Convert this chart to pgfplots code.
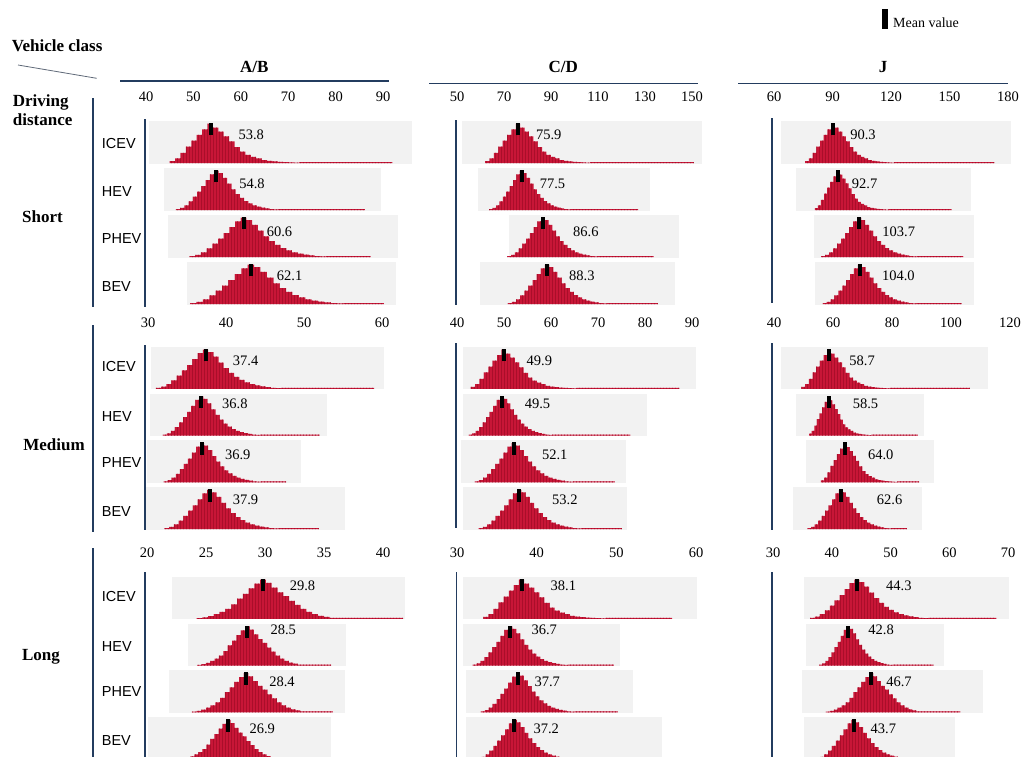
\documentclass[border=0pt]{standalone}
\usepackage{pgfplots}
\pgfplotsset{compat=1.18}
\usetikzlibrary{patterns}
\usepackage{fontspec}
\setmainfont{Liberation Serif}
\newfontfamily\arialf{Liberation Sans}
\definecolor{histred}{RGB}{200,22,55}
\definecolor{histdark}{RGB}{170,14,42}
\definecolor{boxgray}{RGB}{242,242,242}
\definecolor{navy}{RGB}{35,60,95}
\definecolor{diag}{RGB}{95,105,120}
\newcommand\tickf{\fontsize{14.5}{17}\selectfont}
\newcommand\valf{\fontsize{14.5}{17}\selectfont}
\newcommand\boldf{\fontsize{17}{20}\selectfont\bfseries}
\newcommand\clsf{\arialf\fontsize{14.5}{17}\selectfont}
\newcommand\legf{\fontsize{14}{16}\selectfont}
\tikzset{vlab/.style={anchor=west, inner sep=0pt, font=\valf}}
\pgfplotsset{
 panel/.style={scale only axis, anchor=south west, ymin=0, ymax=4, clip=false,
   axis line style={draw=none}, tick style={draw=none}, major tick length=0pt,
   ytick=\empty, xticklabel pos=upper,
   xticklabel style={font=\tickf, anchor=center, inner sep=0pt, yshift=22pt},
   /pgf/number format/assume math mode=true},
 gbox/.style={fill=boxgray, draw=none, forget plot},
 hist/.style={const plot, fill=histred, draw=none, forget plot,
   postaction={pattern=vertical lines, pattern color=histdark}},
 mbar/.style={black, line width=4pt, forget plot},
}
\begin{document}
\begin{tikzpicture}
% ---------------- header texts and lines ----------------
\node[anchor=base west, inner sep=0pt, font=\boldf] at (11.7pt,-51pt) {Vehicle class};
\draw[diag, line width=0.8pt] (18pt,-65pt) -- (96.7pt,-78.3pt);
\node[anchor=base west, inner sep=0pt, font=\boldf] at (12.7pt,-106pt) {Driving};
\node[anchor=base west, inner sep=0pt, font=\boldf] at (12.7pt,-125.5pt) {distance};
\node[anchor=base, inner sep=0pt, font=\boldf] at (254.3pt,-72.5pt) {A/B};
\node[anchor=base, inner sep=0pt, font=\boldf] at (563.3pt,-72.5pt) {C/D};
\node[anchor=base, inner sep=0pt, font=\boldf] at (883pt,-72.5pt) {J};
\draw[navy, line width=1.1pt] (120pt,-81pt) -- (389pt,-81pt);
\draw[navy, line width=1.1pt] (429pt,-83.5pt) -- (698pt,-83.5pt);
\draw[navy, line width=1.1pt] (738pt,-83.5pt) -- (1008pt,-83.5pt);
% row labels
\node[anchor=base, inner sep=0pt, font=\boldf] at (42.5pt,-222.5pt) {Short};
\node[anchor=base, inner sep=0pt, font=\boldf] at (54pt,-450.5pt) {Medium};
\node[anchor=base, inner sep=0pt, font=\boldf] at (41pt,-660.5pt) {Long};
% outer separators
\draw[navy, line width=1.1pt] (93pt,-98pt) -- (93pt,-307pt);
\draw[navy, line width=1.1pt] (93pt,-325pt) -- (93pt,-532pt);
\draw[navy, line width=1.1pt] (93pt,-548pt) -- (93pt,-770pt);
% inner separators
\draw[navy, line width=1.1pt] (145pt,-119pt) -- (145pt,-307pt);
\draw[navy, line width=1.1pt] (456pt,-120pt) -- (456pt,-305pt);
\draw[navy, line width=1.1pt] (772pt,-118pt) -- (772pt,-303pt);
\draw[navy, line width=1.1pt] (145pt,-345pt) -- (145pt,-530pt);
\draw[navy, line width=1.1pt] (456pt,-343pt) -- (456pt,-528pt);
\draw[navy, line width=1.1pt] (772pt,-343pt) -- (772pt,-530pt);
\draw[navy, line width=1.1pt] (145pt,-572pt) -- (145pt,-770pt);
\draw[navy, line width=1.1pt] (456.7pt,-572pt) -- (456.7pt,-770pt);
\draw[navy, line width=1.1pt] (772pt,-572pt) -- (772pt,-770pt);
% class labels
\foreach \yy/\tt in {148.5/ICEV,196.9/HEV,243.5/PHEV,291.2/BEV,371.9/ICEV,421.9/HEV,467.9/PHEV,516.9/BEV,601.9/ICEV,651.2/HEV,696.9/PHEV,745.2/BEV}
  \node[anchor=base west, inner sep=0pt, font=\clsf] at (101.7pt,-\yy pt) {\tt};

% ================= ROW 1 : SHORT =================
\begin{axis}[panel, at={(146pt,-307pt)}, width=237pt, height=188pt, xmin=40, xmax=90, xtick={40,50,...,90}]
\addplot[gbox] coordinates {(40.7,3.05) (96.2,3.05) (96.2,3.96) (40.7,3.96)};
\addplot[gbox] coordinates {(43.8,2.05) (89.5,2.05) (89.5,2.96) (43.8,2.96)};
\addplot[gbox] coordinates {(44.6,1.05) (93.1,1.05) (93.1,1.96) (44.6,1.96)};
\addplot[gbox] coordinates {(48.6,0.05) (92.7,0.05) (92.7,0.96) (48.6,0.96)};
\addplot[hist] table[row sep=\\, y expr=\thisrow{h}+3.06] {x h\\45.00 0\\45.00 0.042\\46.14 0.101\\47.28 0.218\\48.42 0.353\\49.56 0.479\\50.70 0.605\\51.84 0.722\\52.98 0.840\\54.12 0.756\\55.26 0.672\\56.40 0.571\\57.54 0.462\\58.68 0.344\\59.82 0.244\\60.96 0.176\\62.10 0.134\\63.24 0.101\\64.38 0.067\\65.52 0.050\\66.66 0.038\\67.80 0.029\\68.94 0.021\\70.08 0.017\\71.22 0.013\\72.36 0.022\\92.0 0\\};
\addplot[hist] table[row sep=\\, y expr=\thisrow{h}+2.06] {x h\\46.3 0\\46.3 0.025\\47.2 0.050\\48.1 0.101\\49.0 0.185\\49.9 0.286\\50.8 0.395\\51.7 0.512\\52.6 0.638\\53.5 0.764\\54.4 0.840\\55.3 0.790\\56.2 0.689\\57.1 0.563\\58.0 0.445\\58.9 0.344\\59.8 0.260\\60.7 0.193\\61.6 0.143\\62.5 0.101\\63.4 0.076\\64.3 0.055\\65.2 0.038\\66.1 0.025\\67.0 0.017\\67.9 0.022\\86.2 0\\};
\addplot[hist] table[row sep=\\, y expr=\thisrow{h}+1.06] {x h\\49.2 0\\49.2 0.025\\50.4 0.050\\51.6 0.101\\52.8 0.185\\54.0 0.286\\55.2 0.395\\56.4 0.512\\57.6 0.638\\58.8 0.764\\60.0 0.840\\61.2 0.790\\62.4 0.689\\63.6 0.563\\64.8 0.445\\66.0 0.344\\67.2 0.260\\68.4 0.193\\69.6 0.143\\70.8 0.101\\72.0 0.076\\73.2 0.055\\74.4 0.038\\75.6 0.025\\76.8 0.017\\78.0 0.022\\87.4 0\\};
\addplot[hist] table[row sep=\\, y expr=\thisrow{h}+0.06] {x h\\49.30 0\\49.30 0.025\\50.65 0.050\\52.00 0.101\\53.35 0.185\\54.70 0.286\\56.05 0.395\\57.40 0.512\\58.75 0.638\\60.10 0.764\\61.45 0.840\\62.80 0.790\\64.15 0.689\\65.50 0.563\\66.85 0.445\\68.20 0.344\\69.55 0.260\\70.90 0.193\\72.25 0.143\\73.60 0.101\\74.95 0.076\\76.30 0.055\\77.65 0.038\\79.00 0.025\\80.35 0.017\\81.70 0.022\\90.2 0\\};
\addplot[mbar] coordinates {(53.8,3.65) (53.8,3.915)};
\addplot[mbar] coordinates {(54.8,2.65) (54.8,2.915)};
\addplot[mbar] coordinates {(60.6,1.65) (60.6,1.915)};
\addplot[mbar] coordinates {(62.1,0.65) (62.1,0.915)};
\node[vlab, xshift=27pt] at (axis cs:53.8,3.66) {53.8};
\node[vlab, xshift=23pt] at (axis cs:54.8,2.62) {54.8};
\node[vlab, xshift=23pt] at (axis cs:60.6,1.60) {60.6};
\node[vlab, xshift=26pt] at (axis cs:62.1,0.66) {62.1};
\end{axis}

\begin{axis}[panel, at={(457pt,-307pt)}, width=235pt, height=188pt, xmin=50, xmax=150, xtick={50,70,...,150}]
\addplot[gbox] coordinates {(52.2,3.05) (154.3,3.05) (154.3,3.96) (52.2,3.96)};
\addplot[gbox] coordinates {(59.0,2.05) (132.2,2.05) (132.2,2.96) (59.0,2.96)};
\addplot[gbox] coordinates {(72.1,1.05) (144.5,1.05) (144.5,1.96) (72.1,1.96)};
\addplot[gbox] coordinates {(59.9,0.05) (142.6,0.05) (142.6,0.96) (59.9,0.96)};
\addplot[hist] table[row sep=\\, y expr=\thisrow{h}+3.06] {x h\\62.00 0\\62.00 0.042\\63.86 0.101\\65.72 0.218\\67.58 0.353\\69.44 0.479\\71.30 0.605\\73.16 0.722\\75.02 0.840\\76.88 0.756\\78.74 0.672\\80.60 0.571\\82.46 0.462\\84.32 0.344\\86.18 0.244\\88.04 0.176\\89.90 0.134\\91.76 0.101\\93.62 0.067\\95.48 0.050\\97.34 0.038\\99.20 0.029\\101.06 0.021\\102.92 0.017\\104.78 0.013\\106.64 0.022\\150.8 0\\};
\addplot[hist] table[row sep=\\, y expr=\thisrow{h}+2.06] {x h\\63.70 0\\63.70 0.025\\65.15 0.050\\66.60 0.101\\68.05 0.185\\69.50 0.286\\70.95 0.395\\72.40 0.512\\73.85 0.638\\75.30 0.764\\76.75 0.840\\78.20 0.790\\79.65 0.689\\81.10 0.563\\82.55 0.445\\84.00 0.344\\85.45 0.260\\86.90 0.193\\88.35 0.143\\89.80 0.101\\91.25 0.076\\92.70 0.055\\94.15 0.038\\95.60 0.025\\97.05 0.017\\98.50 0.022\\127.1 0\\};
\addplot[hist] table[row sep=\\, y expr=\thisrow{h}+1.06] {x h\\71.4 0\\71.4 0.025\\73.0 0.050\\74.6 0.101\\76.2 0.185\\77.8 0.286\\79.4 0.395\\81.0 0.512\\82.6 0.638\\84.2 0.764\\85.8 0.840\\87.4 0.790\\89.0 0.689\\90.6 0.563\\92.2 0.445\\93.8 0.344\\95.4 0.260\\97.0 0.193\\98.6 0.143\\100.2 0.101\\101.8 0.076\\103.4 0.055\\105.0 0.038\\106.6 0.025\\108.2 0.017\\109.8 0.022\\133.7 0\\};
\addplot[hist] table[row sep=\\, y expr=\thisrow{h}+0.06] {x h\\71.60 0\\71.60 0.025\\73.36 0.050\\75.12 0.101\\76.88 0.185\\78.64 0.286\\80.40 0.395\\82.16 0.512\\83.92 0.638\\85.68 0.764\\87.44 0.840\\89.20 0.790\\90.96 0.689\\92.72 0.563\\94.48 0.445\\96.24 0.344\\98.00 0.260\\99.76 0.193\\101.52 0.143\\103.28 0.101\\105.04 0.076\\106.80 0.055\\108.56 0.038\\110.32 0.025\\112.08 0.017\\113.84 0.022\\135.5 0\\};
\addplot[mbar] coordinates {(75.9,3.65) (75.9,3.915)};
\addplot[mbar] coordinates {(77.5,2.65) (77.5,2.915)};
\addplot[mbar] coordinates {(86.6,1.65) (86.6,1.915)};
\addplot[mbar] coordinates {(88.3,0.65) (88.3,0.915)};
\node[vlab, xshift=18pt] at (axis cs:75.9,3.66) {75.9};
\node[vlab, xshift=18pt] at (axis cs:77.5,2.62) {77.5};
\node[vlab, xshift=30pt] at (axis cs:86.6,1.60) {86.6};
\node[vlab, xshift=22pt] at (axis cs:88.3,0.66) {88.3};
\end{axis}

\begin{axis}[panel, at={(774pt,-307pt)}, width=234pt, height=188pt, xmin=60, xmax=180, xtick={60,90,...,180},
  legend style={at={(axis description cs:0.462,1.527)}, anchor=west, draw=none, fill=none, inner sep=0pt, font=\legf},
  legend image code/.code={\fill[black] (0pt,-4pt) rectangle (4.5pt,15pt);}]
\addlegendimage{black}
\addlegendentry{\hspace{4pt}Mean value}
\addplot[gbox] coordinates {(63.4,3.05) (181.4,3.05) (181.4,3.96) (63.4,3.96)};
\addplot[gbox] coordinates {(71.3,2.05) (161.2,2.05) (161.2,2.96) (71.3,2.96)};
\addplot[gbox] coordinates {(80.6,1.05) (162.7,1.05) (162.7,1.96) (80.6,1.96)};
\addplot[gbox] coordinates {(80.9,0.05) (162.5,0.05) (162.5,0.96) (80.9,0.96)};
\addplot[hist] table[row sep=\\, y expr=\thisrow{h}+3.06] {x h\\76.0 0\\76.0 0.042\\77.9 0.101\\79.8 0.218\\81.7 0.353\\83.6 0.479\\85.5 0.605\\87.4 0.722\\89.3 0.840\\91.2 0.756\\93.1 0.672\\95.0 0.571\\96.9 0.462\\98.8 0.344\\100.7 0.244\\102.6 0.176\\104.5 0.134\\106.4 0.101\\108.3 0.067\\110.2 0.050\\112.1 0.038\\114.0 0.029\\115.9 0.021\\117.8 0.017\\119.7 0.013\\121.6 0.022\\173.0 0\\};
\addplot[hist] table[row sep=\\, y expr=\thisrow{h}+2.06] {x h\\80.90 0\\80.90 0.042\\82.48 0.101\\84.06 0.218\\85.64 0.353\\87.22 0.479\\88.80 0.605\\90.38 0.722\\91.96 0.840\\93.54 0.756\\95.12 0.672\\96.70 0.571\\98.28 0.462\\99.86 0.344\\101.44 0.244\\103.02 0.176\\104.60 0.134\\106.18 0.101\\107.76 0.067\\109.34 0.050\\110.92 0.038\\112.50 0.029\\114.08 0.021\\115.66 0.017\\117.24 0.013\\118.82 0.022\\151.0 0\\};
\addplot[hist] table[row sep=\\, y expr=\thisrow{h}+1.06] {x h\\84.20 0\\84.20 0.025\\86.25 0.050\\88.30 0.101\\90.35 0.185\\92.40 0.286\\94.45 0.395\\96.50 0.512\\98.55 0.638\\100.60 0.764\\102.65 0.840\\104.70 0.790\\106.75 0.689\\108.80 0.563\\110.85 0.445\\112.90 0.344\\114.95 0.260\\117.00 0.193\\119.05 0.143\\121.10 0.101\\123.15 0.076\\125.20 0.055\\127.25 0.038\\129.30 0.025\\131.35 0.017\\133.40 0.022\\157.0 0\\};
\addplot[hist] table[row sep=\\, y expr=\thisrow{h}+0.06] {x h\\85 0\\85 0.025\\87 0.050\\89 0.101\\91 0.185\\93 0.286\\95 0.395\\97 0.512\\99 0.638\\101 0.764\\103 0.840\\105 0.790\\107 0.689\\109 0.563\\111 0.445\\113 0.344\\115 0.260\\117 0.193\\119 0.143\\121 0.101\\123 0.076\\125 0.055\\127 0.038\\129 0.025\\131 0.017\\133 0.022\\156.2 0\\};
\addplot[mbar] coordinates {(90.3,3.65) (90.3,3.915)};
\addplot[mbar] coordinates {(92.7,2.65) (92.7,2.915)};
\addplot[mbar] coordinates {(103.7,1.65) (103.7,1.915)};
\addplot[mbar] coordinates {(104.0,0.65) (104.0,0.915)};
\node[vlab, xshift=17pt] at (axis cs:90.3,3.66) {90.3};
\node[vlab, xshift=14pt] at (axis cs:92.7,2.62) {92.7};
\node[vlab, xshift=23pt] at (axis cs:103.7,1.60) {103.7};
\node[vlab, xshift=22pt] at (axis cs:104.0,0.66) {104.0};
\end{axis}

% ================= ROW 2 : MEDIUM =================
\begin{axis}[panel, at={(148pt,-532pt)}, width=234pt, height=187pt, xmin=30, xmax=60, xtick={30,40,50,60}]
\addplot[gbox] coordinates {(30.4,3.05) (60.3,3.05) (60.3,3.96) (30.4,3.96)};
\addplot[gbox] coordinates {(30.2,2.05) (53.0,2.05) (53.0,2.96) (30.2,2.96)};
\addplot[gbox] coordinates {(29.9,1.05) (49.6,1.05) (49.6,1.96) (29.9,1.96)};
\addplot[gbox] coordinates {(29.8,0.05) (55.2,0.05) (55.2,0.96) (29.8,0.96)};
\addplot[hist] table[row sep=\\, y expr=\thisrow{h}+3.06] {x h\\31.00 0\\31.00 0.025\\31.67 0.050\\32.34 0.101\\33.01 0.185\\33.68 0.286\\34.35 0.395\\35.02 0.512\\35.69 0.638\\36.36 0.764\\37.03 0.840\\37.70 0.790\\38.37 0.689\\39.04 0.563\\39.71 0.445\\40.38 0.344\\41.05 0.260\\41.72 0.193\\42.39 0.143\\43.06 0.101\\43.73 0.076\\44.40 0.055\\45.07 0.038\\45.74 0.025\\46.41 0.017\\47.08 0.022\\59.0 0\\};
\addplot[hist] table[row sep=\\, y expr=\thisrow{h}+2.06] {x h\\31.90 0\\31.90 0.025\\32.42 0.050\\32.94 0.101\\33.46 0.185\\33.98 0.286\\34.50 0.395\\35.02 0.512\\35.54 0.638\\36.06 0.764\\36.58 0.840\\37.10 0.790\\37.62 0.689\\38.14 0.563\\38.66 0.445\\39.18 0.344\\39.70 0.260\\40.22 0.193\\40.74 0.143\\41.26 0.101\\41.78 0.076\\42.30 0.055\\42.82 0.038\\43.34 0.025\\43.86 0.017\\44.38 0.022\\52.0 0\\};
\addplot[hist] table[row sep=\\, y expr=\thisrow{h}+1.06] {x h\\32.00 0\\32.00 0.025\\32.52 0.050\\33.04 0.101\\33.56 0.185\\34.08 0.286\\34.60 0.395\\35.12 0.512\\35.64 0.638\\36.16 0.764\\36.68 0.840\\37.20 0.790\\37.72 0.689\\38.24 0.563\\38.76 0.445\\39.28 0.344\\39.80 0.260\\40.32 0.193\\40.84 0.143\\41.36 0.101\\41.88 0.076\\42.40 0.055\\42.92 0.038\\43.44 0.025\\43.96 0.017\\44.48 0.022\\47.7 0\\};
\addplot[hist] table[row sep=\\, y expr=\thisrow{h}+0.06] {x h\\32.10 0\\32.10 0.025\\32.71 0.050\\33.32 0.101\\33.93 0.185\\34.54 0.286\\35.15 0.395\\35.76 0.512\\36.37 0.638\\36.98 0.764\\37.59 0.840\\38.20 0.790\\38.81 0.689\\39.42 0.563\\40.03 0.445\\40.64 0.344\\41.25 0.260\\41.86 0.193\\42.47 0.143\\43.08 0.101\\43.69 0.076\\44.30 0.055\\44.91 0.038\\45.52 0.025\\46.13 0.017\\46.74 0.022\\51.9 0\\};
\addplot[mbar] coordinates {(37.4,3.65) (37.4,3.915)};
\addplot[mbar] coordinates {(36.8,2.65) (36.8,2.915)};
\addplot[mbar] coordinates {(36.9,1.65) (36.9,1.915)};
\addplot[mbar] coordinates {(37.9,0.65) (37.9,0.915)};
\node[vlab, xshift=27pt] at (axis cs:37.4,3.66) {37.4};
\node[vlab, xshift=21pt] at (axis cs:36.8,2.75) {36.8};
\node[vlab, xshift=23pt] at (axis cs:36.9,1.66) {36.9};
\node[vlab, xshift=23pt] at (axis cs:37.9,0.68) {37.9};
\end{axis}

\begin{axis}[panel, at={(457pt,-532pt)}, width=235pt, height=187pt, xmin=40, xmax=90, xtick={40,50,...,90}]
\addplot[gbox] coordinates {(41.2,3.05) (90.8,3.05) (90.8,3.96) (41.2,3.96)};
\addplot[gbox] coordinates {(41.3,2.05) (80.4,2.05) (80.4,2.96) (41.3,2.96)};
\addplot[gbox] coordinates {(40.8,1.05) (75.9,1.05) (75.9,1.96) (40.8,1.96)};
\addplot[gbox] coordinates {(41.3,0.05) (76.1,0.05) (76.1,0.96) (41.3,0.96)};
\addplot[hist] table[row sep=\\, y expr=\thisrow{h}+3.06] {x h\\42.90 0\\42.90 0.042\\43.84 0.101\\44.78 0.218\\45.72 0.353\\46.66 0.479\\47.60 0.605\\48.54 0.722\\49.48 0.840\\50.42 0.756\\51.36 0.672\\52.30 0.571\\53.24 0.462\\54.18 0.344\\55.12 0.244\\56.06 0.176\\57.00 0.134\\57.94 0.101\\58.88 0.067\\59.82 0.050\\60.76 0.038\\61.70 0.029\\62.64 0.021\\63.58 0.017\\64.52 0.013\\65.46 0.022\\87.3 0\\};
\addplot[hist] table[row sep=\\, y expr=\thisrow{h}+2.06] {x h\\42.50 0\\42.50 0.025\\43.24 0.050\\43.98 0.101\\44.72 0.185\\45.46 0.286\\46.20 0.395\\46.94 0.512\\47.68 0.638\\48.42 0.764\\49.16 0.840\\49.90 0.790\\50.64 0.689\\51.38 0.563\\52.12 0.445\\52.86 0.344\\53.60 0.260\\54.34 0.193\\55.08 0.143\\55.82 0.101\\56.56 0.076\\57.30 0.055\\58.04 0.038\\58.78 0.025\\59.52 0.017\\60.26 0.022\\76.9 0\\};
\addplot[hist] table[row sep=\\, y expr=\thisrow{h}+1.06] {x h\\43.80 0\\43.80 0.025\\44.67 0.050\\45.54 0.101\\46.41 0.185\\47.28 0.286\\48.15 0.395\\49.02 0.512\\49.89 0.638\\50.76 0.764\\51.63 0.840\\52.50 0.790\\53.37 0.689\\54.24 0.563\\55.11 0.445\\55.98 0.344\\56.85 0.260\\57.72 0.193\\58.59 0.143\\59.46 0.101\\60.33 0.076\\61.20 0.055\\62.07 0.038\\62.94 0.025\\63.81 0.017\\64.68 0.022\\73.6 0\\};
\addplot[hist] table[row sep=\\, y expr=\thisrow{h}+0.06] {x h\\44.60 0\\44.60 0.025\\45.51 0.050\\46.42 0.101\\47.33 0.185\\48.24 0.286\\49.15 0.395\\50.06 0.512\\50.97 0.638\\51.88 0.764\\52.79 0.840\\53.70 0.790\\54.61 0.689\\55.52 0.563\\56.43 0.445\\57.34 0.344\\58.25 0.260\\59.16 0.193\\60.07 0.143\\60.98 0.101\\61.89 0.076\\62.80 0.055\\63.71 0.038\\64.62 0.025\\65.53 0.017\\66.44 0.022\\75.1 0\\};
\addplot[mbar] coordinates {(49.9,3.65) (49.9,3.915)};
\addplot[mbar] coordinates {(49.5,2.65) (49.5,2.915)};
\addplot[mbar] coordinates {(52.1,1.65) (52.1,1.915)};
\addplot[mbar] coordinates {(53.2,0.65) (53.2,0.915)};
\node[vlab, xshift=23pt] at (axis cs:49.9,3.66) {49.9};
\node[vlab, xshift=23pt] at (axis cs:49.5,2.75) {49.5};
\node[vlab, xshift=28pt] at (axis cs:52.1,1.66) {52.1};
\node[vlab, xshift=33pt] at (axis cs:53.2,0.68) {53.2};
\end{axis}

\begin{axis}[panel, at={(774pt,-532pt)}, width=236pt, height=187pt, xmin=40, xmax=120, xtick={40,60,...,120}]
\addplot[gbox] coordinates {(42.3,3.05) (112.4,3.05) (112.4,3.96) (42.3,3.96)};
\addplot[gbox] coordinates {(47.3,2.05) (90.7,2.05) (90.7,2.96) (47.3,2.96)};
\addplot[gbox] coordinates {(50.8,1.05) (94.3,1.05) (94.3,1.96) (50.8,1.96)};
\addplot[gbox] coordinates {(46.6,0.05) (90.0,0.05) (90.0,0.96) (46.6,0.96)};
\addplot[hist] table[row sep=\\, y expr=\thisrow{h}+3.06] {x h\\49.30 0\\49.30 0.042\\50.55 0.101\\51.80 0.218\\53.05 0.353\\54.30 0.479\\55.55 0.605\\56.80 0.722\\58.05 0.840\\59.30 0.756\\60.55 0.672\\61.80 0.571\\63.05 0.462\\64.30 0.344\\65.55 0.244\\66.80 0.176\\68.05 0.134\\69.30 0.101\\70.55 0.067\\71.80 0.050\\73.05 0.038\\74.30 0.029\\75.55 0.021\\76.80 0.017\\78.05 0.013\\79.30 0.022\\106.4 0\\};
\addplot[hist] table[row sep=\\, y expr=\thisrow{h}+2.06] {x h\\51.90 0\\51.90 0.042\\52.78 0.101\\53.66 0.218\\54.54 0.353\\55.42 0.479\\56.30 0.605\\57.18 0.722\\58.06 0.840\\58.94 0.756\\59.82 0.672\\60.70 0.571\\61.58 0.462\\62.46 0.344\\63.34 0.244\\64.22 0.176\\65.10 0.134\\65.98 0.101\\66.86 0.067\\67.74 0.050\\68.62 0.038\\69.50 0.029\\70.38 0.021\\71.26 0.017\\72.14 0.013\\73.02 0.022\\88.8 0\\};
\addplot[hist] table[row sep=\\, y expr=\thisrow{h}+1.06] {x h\\55.90 0\\55.90 0.042\\56.98 0.101\\58.06 0.218\\59.14 0.353\\60.22 0.479\\61.30 0.605\\62.38 0.722\\63.46 0.840\\64.54 0.756\\65.62 0.672\\66.70 0.571\\67.78 0.462\\68.86 0.344\\69.94 0.244\\71.02 0.176\\72.10 0.134\\73.18 0.101\\74.26 0.067\\75.34 0.050\\76.42 0.038\\77.50 0.029\\78.58 0.021\\79.66 0.017\\80.74 0.013\\81.82 0.022\\89.2 0\\};
\addplot[hist] table[row sep=\\, y expr=\thisrow{h}+0.06] {x h\\51.40 0\\51.40 0.025\\52.58 0.050\\53.76 0.101\\54.94 0.185\\56.12 0.286\\57.30 0.395\\58.48 0.512\\59.66 0.638\\60.84 0.764\\62.02 0.840\\63.20 0.790\\64.38 0.689\\65.56 0.563\\66.74 0.445\\67.92 0.344\\69.10 0.260\\70.28 0.193\\71.46 0.143\\72.64 0.101\\73.82 0.076\\75.00 0.055\\76.18 0.038\\77.36 0.025\\78.54 0.017\\79.72 0.022\\85.0 0\\};
\addplot[mbar] coordinates {(58.7,3.65) (58.7,3.915)};
\addplot[mbar] coordinates {(58.5,2.65) (58.5,2.915)};
\addplot[mbar] coordinates {(64.0,1.65) (64.0,1.915)};
\addplot[mbar] coordinates {(62.6,0.65) (62.6,0.915)};
\node[vlab, xshift=20pt] at (axis cs:58.7,3.66) {58.7};
\node[vlab, xshift=24pt] at (axis cs:58.5,2.75) {58.5};
\node[vlab, xshift=23pt] at (axis cs:64.0,1.66) {64.0};
\node[vlab, xshift=36pt] at (axis cs:62.6,0.68) {62.6};
\end{axis}

% ================= ROW 3 : LONG =================
\begin{axis}[panel, at={(147pt,-762pt)}, width=236pt, height=187pt, xmin=20, xmax=40, xtick={20,25,...,40}]
\addplot[gbox] coordinates {(22.15,3.05) (41.9,3.05) (41.9,3.96) (22.15,3.96)};
\addplot[gbox] coordinates {(23.5,2.05) (36.9,2.05) (36.9,2.96) (23.5,2.96)};
\addplot[gbox] coordinates {(21.9,1.05) (36.8,1.05) (36.8,1.96) (21.9,1.96)};
\addplot[gbox] coordinates {(20.1,0.05) (35.6,0.05) (35.6,0.96) (20.1,0.96)};
\addplot[hist] table[row sep=\\, y expr=\thisrow{h}+3.06] {x h\\24.20 0\\24.20 0.017\\24.69 0.034\\25.18 0.059\\25.67 0.101\\26.16 0.151\\26.65 0.218\\27.14 0.311\\27.63 0.437\\28.12 0.538\\28.61 0.655\\29.10 0.756\\29.59 0.840\\30.08 0.773\\30.57 0.672\\31.06 0.571\\31.55 0.487\\32.04 0.386\\32.53 0.302\\33.02 0.218\\33.51 0.151\\34.00 0.101\\34.49 0.067\\34.98 0.042\\35.47 0.025\\35.96 0.022\\41.7 0\\};
\addplot[hist] table[row sep=\\, y expr=\thisrow{h}+2.06] {x h\\24.25 0\\24.25 0.017\\24.62 0.034\\24.99 0.059\\25.36 0.101\\25.73 0.151\\26.10 0.218\\26.47 0.311\\26.84 0.437\\27.21 0.538\\27.58 0.655\\27.95 0.756\\28.32 0.840\\28.69 0.773\\29.06 0.672\\29.43 0.571\\29.80 0.487\\30.17 0.386\\30.54 0.302\\30.91 0.218\\31.28 0.151\\31.65 0.101\\32.02 0.067\\32.39 0.042\\32.76 0.025\\33.13 0.022\\35.6 0\\};
\addplot[hist] table[row sep=\\, y expr=\thisrow{h}+1.06] {x h\\23.8 0\\23.8 0.017\\24.2 0.034\\24.6 0.059\\25.0 0.101\\25.4 0.151\\25.8 0.218\\26.2 0.311\\26.6 0.437\\27.0 0.538\\27.4 0.655\\27.8 0.756\\28.2 0.840\\28.6 0.773\\29.0 0.672\\29.4 0.571\\29.8 0.487\\30.2 0.386\\30.6 0.302\\31.0 0.218\\31.4 0.151\\31.8 0.101\\32.2 0.067\\32.6 0.042\\33.0 0.025\\33.4 0.022\\35.75 0\\};
\addplot[hist] table[row sep=\\, y expr=\thisrow{h}+0.06] {x h\\23.00 0\\23.00 0.017\\23.34 0.034\\23.68 0.059\\24.02 0.101\\24.36 0.151\\24.70 0.218\\25.04 0.311\\25.38 0.437\\25.72 0.538\\26.06 0.655\\26.40 0.756\\26.74 0.840\\27.08 0.773\\27.42 0.672\\27.76 0.571\\28.10 0.487\\28.44 0.386\\28.78 0.302\\29.12 0.218\\29.46 0.151\\29.80 0.101\\30.14 0.067\\30.48 0.042\\30.82 0.025\\31.16 0.022\\32.0 0\\};
\addplot[mbar] coordinates {(29.8,3.65) (29.8,3.915)};
\addplot[mbar] coordinates {(28.5,2.65) (28.5,2.915)};
\addplot[mbar] coordinates {(28.4,1.65) (28.4,1.915)};
\addplot[mbar] coordinates {(26.9,0.65) (26.9,0.915)};
\node[vlab, xshift=27pt] at (axis cs:29.8,3.77) {29.8};
\node[vlab, xshift=23pt] at (axis cs:28.5,2.83) {28.5};
\node[vlab, xshift=23pt] at (axis cs:28.4,1.72) {28.4};
\node[vlab, xshift=21pt] at (axis cs:26.9,0.72) {26.9};
\end{axis}

\begin{axis}[panel, at={(457pt,-762pt)}, width=239pt, height=187pt, xmin=30, xmax=60, xtick={30,40,50,60}]
\addplot[gbox] coordinates {(30.8,3.05) (60.1,3.05) (60.1,3.96) (30.8,3.96)};
\addplot[gbox] coordinates {(30.7,2.05) (50.4,2.05) (50.4,2.96) (30.7,2.96)};
\addplot[gbox] coordinates {(31.1,1.05) (52.1,1.05) (52.1,1.96) (31.1,1.96)};
\addplot[gbox] coordinates {(31.1,0.05) (55.7,0.05) (55.7,0.96) (31.1,0.96)};
\addplot[hist] table[row sep=\\, y expr=\thisrow{h}+3.06] {x h\\33.30 0\\33.30 0.042\\33.94 0.101\\34.58 0.218\\35.22 0.353\\35.86 0.479\\36.50 0.605\\37.14 0.722\\37.78 0.840\\38.42 0.756\\39.06 0.672\\39.70 0.571\\40.34 0.462\\40.98 0.344\\41.62 0.244\\42.26 0.176\\42.90 0.134\\43.54 0.101\\44.18 0.067\\44.82 0.050\\45.46 0.038\\46.10 0.029\\46.74 0.021\\47.38 0.017\\48.02 0.013\\48.66 0.022\\57.0 0\\};
\addplot[hist] table[row sep=\\, y expr=\thisrow{h}+2.06] {x h\\31.95 0\\31.95 0.025\\32.45 0.050\\32.95 0.101\\33.45 0.185\\33.95 0.286\\34.45 0.395\\34.95 0.512\\35.45 0.638\\35.95 0.764\\36.45 0.840\\36.95 0.790\\37.45 0.689\\37.95 0.563\\38.45 0.445\\38.95 0.344\\39.45 0.260\\39.95 0.193\\40.45 0.143\\40.95 0.101\\41.45 0.076\\41.95 0.055\\42.45 0.038\\42.95 0.025\\43.45 0.017\\43.95 0.022\\49.7 0\\};
\addplot[hist] table[row sep=\\, y expr=\thisrow{h}+1.06] {x h\\33.00 0\\33.00 0.025\\33.49 0.050\\33.98 0.101\\34.47 0.185\\34.96 0.286\\35.45 0.395\\35.94 0.512\\36.43 0.638\\36.92 0.764\\37.41 0.840\\37.90 0.790\\38.39 0.689\\38.88 0.563\\39.37 0.445\\39.86 0.344\\40.35 0.260\\40.84 0.193\\41.33 0.143\\41.82 0.101\\42.31 0.076\\42.80 0.055\\43.29 0.038\\43.78 0.025\\44.27 0.017\\44.76 0.022\\50.2 0\\};
\addplot[hist] table[row sep=\\, y expr=\thisrow{h}+0.06] {x h\\32.60 0\\32.60 0.025\\33.09 0.050\\33.58 0.101\\34.07 0.185\\34.56 0.286\\35.05 0.395\\35.54 0.512\\36.03 0.638\\36.52 0.764\\37.01 0.840\\37.50 0.790\\37.99 0.689\\38.48 0.563\\38.97 0.445\\39.46 0.344\\39.95 0.260\\40.44 0.193\\40.93 0.143\\41.42 0.101\\41.91 0.076\\42.40 0.055\\42.89 0.038\\43.38 0.025\\43.87 0.017\\44.36 0.022\\46.0 0\\};
\addplot[mbar] coordinates {(38.1,3.65) (38.1,3.915)};
\addplot[mbar] coordinates {(36.7,2.65) (36.7,2.915)};
\addplot[mbar] coordinates {(37.7,1.65) (37.7,1.915)};
\addplot[mbar] coordinates {(37.2,0.65) (37.2,0.915)};
\node[vlab, xshift=29pt] at (axis cs:38.1,3.77) {38.1};
\node[vlab, xshift=21pt] at (axis cs:36.7,2.83) {36.7};
\node[vlab, xshift=16pt] at (axis cs:37.7,1.72) {37.7};
\node[vlab, xshift=19pt] at (axis cs:37.2,0.72) {37.2};
\end{axis}

\begin{axis}[panel, at={(773pt,-762pt)}, width=235pt, height=187pt, xmin=30, xmax=70, xtick={30,40,...,70}]
\addplot[gbox] coordinates {(35.3,3.05) (70.2,3.05) (70.2,3.96) (35.3,3.96)};
\addplot[gbox] coordinates {(35.6,2.05) (59.1,2.05) (59.1,2.96) (35.6,2.96)};
\addplot[gbox] coordinates {(35.0,1.05) (65.8,1.05) (65.8,1.96) (35.0,1.96)};
\addplot[gbox] coordinates {(35.3,0.05) (61.0,0.05) (61.0,0.96) (35.3,0.96)};
\addplot[hist] table[row sep=\\, y expr=\thisrow{h}+3.06] {x h\\36.30 0\\36.30 0.025\\37.14 0.050\\37.98 0.101\\38.82 0.185\\39.66 0.286\\40.50 0.395\\41.34 0.512\\42.18 0.638\\43.02 0.764\\43.86 0.840\\44.70 0.790\\45.54 0.689\\46.38 0.563\\47.22 0.445\\48.06 0.344\\48.90 0.260\\49.74 0.193\\50.58 0.143\\51.42 0.101\\52.26 0.076\\53.10 0.055\\53.94 0.038\\54.78 0.025\\55.62 0.017\\56.46 0.022\\68.0 0\\};
\addplot[hist] table[row sep=\\, y expr=\thisrow{h}+2.06] {x h\\37.90 0\\37.90 0.025\\38.42 0.050\\38.94 0.101\\39.46 0.185\\39.98 0.286\\40.50 0.395\\41.02 0.512\\41.54 0.638\\42.06 0.764\\42.58 0.840\\43.10 0.790\\43.62 0.689\\44.14 0.563\\44.66 0.445\\45.18 0.344\\45.70 0.260\\46.22 0.193\\46.74 0.143\\47.26 0.101\\47.78 0.076\\48.30 0.055\\48.82 0.038\\49.34 0.025\\49.86 0.017\\50.38 0.022\\57.3 0\\};
\addplot[hist] table[row sep=\\, y expr=\thisrow{h}+1.06] {x h\\39.00 0\\39.00 0.017\\39.67 0.034\\40.34 0.059\\41.01 0.101\\41.68 0.151\\42.35 0.218\\43.02 0.311\\43.69 0.437\\44.36 0.538\\45.03 0.655\\45.70 0.756\\46.37 0.840\\47.04 0.773\\47.71 0.672\\48.38 0.571\\49.05 0.487\\49.72 0.386\\50.39 0.302\\51.06 0.218\\51.73 0.151\\52.40 0.101\\53.07 0.067\\53.74 0.042\\54.41 0.025\\55.08 0.022\\61.9 0\\};
\addplot[hist] table[row sep=\\, y expr=\thisrow{h}+0.06] {x h\\37.40 0\\37.40 0.025\\38.06 0.050\\38.72 0.101\\39.38 0.185\\40.04 0.286\\40.70 0.395\\41.36 0.512\\42.02 0.638\\42.68 0.764\\43.34 0.840\\44.00 0.790\\44.66 0.689\\45.32 0.563\\45.98 0.445\\46.64 0.344\\47.30 0.260\\47.96 0.193\\48.62 0.143\\49.28 0.101\\49.94 0.076\\50.60 0.055\\51.26 0.038\\51.92 0.025\\52.58 0.017\\53.24 0.022\\54.0 0\\};
\addplot[mbar] coordinates {(44.3,3.65) (44.3,3.915)};
\addplot[mbar] coordinates {(42.8,2.65) (42.8,2.915)};
\addplot[mbar] coordinates {(46.7,1.65) (46.7,1.915)};
\addplot[mbar] coordinates {(43.7,0.65) (43.7,0.915)};
\node[vlab, xshift=29pt] at (axis cs:44.3,3.77) {44.3};
\node[vlab, xshift=20pt] at (axis cs:42.8,2.83) {42.8};
\node[vlab, xshift=15pt] at (axis cs:46.7,1.72) {46.7};
\node[vlab, xshift=17pt] at (axis cs:43.7,0.72) {43.7};
\end{axis}

\pgfresetboundingbox
\path[use as bounding box] (0pt,0pt) rectangle (1024pt,-756pt);
\end{tikzpicture}
\end{document}
